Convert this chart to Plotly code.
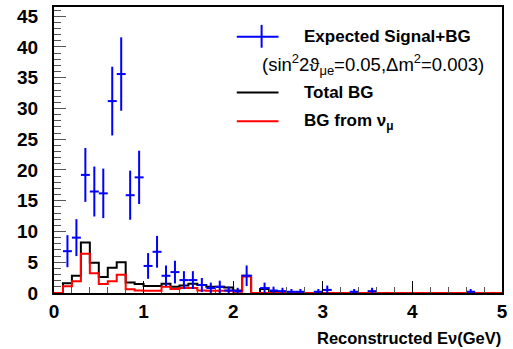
import numpy as np
import plotly.graph_objects as go

# bin edges 0..5 GeV, width 0.1
bin_edges = [round(0.1 * i, 1) for i in range(51)]

# Expected signal + background (blue points), one value per bin (None = empty)
signal_bg = [None, 6.8, 9.0, 19.2, 16.5, 16.2, 31.2, 35.6, 15.9, 18.8,
             4.4, 6.7, 2.8, 3.4, 2.1, 2.1, 1.3, 0.8, 1.0, 0.4,
             0.3, 2.8, None, 0.8, 0.4, 0.3, 0.2, 0.2, None, 0.2,
             0.5, None, None, 0.2, None, 0.3, None, None, None, None,
             None, None, None, None, None, None, 0.2, None, None, None]

# Total background (black histogram)
total_bg = [0, 1.6, 2.8, 8.2, 4.9, 2.6, 4.1, 5.0, 1.7, 1.45,
            1.15, 1.15, 1.5, 1.0, 1.2, 1.5, 1.3, 1.0, 1.0, 0.9,
            0.4, 2.8, 0, 0.65, 0.3, 0.1, 0, 0, 0, 0,
            0, 0, 0, 0, 0, 0, 0, 0, 0, 0,
            0, 0, 0, 0, 0, 0, 0, 0, 0, 0]

# Background from nu_mu (red histogram)
bg_numu = [0, 1.1, 1.9, 6.4, 3.2, 1.45, 1.9, 2.95, 0.6, 0.4,
           0.35, 0.35, 1.0, 0.65, 0.8, 0.8, 0.4, 0.35, 0.35, 0.35,
           0.2, 2.7, 0, 0, 0, 0, 0, 0, 0, 0,
           0, 0, 0, 0, 0, 0, 0, 0, 0, 0,
           0, 0, 0, 0, 0, 0, 0, 0, 0, 0]

x_ticks = [0, 1, 2, 3, 4, 5]
y_ticks = [0, 5, 10, 15, 20, 25, 30, 35, 40, 45]

centers = [(bin_edges[i] + bin_edges[i + 1]) / 2 for i in range(len(signal_bg))]
half_w = [(bin_edges[i + 1] - bin_edges[i]) / 2 for i in range(len(signal_bg))]
sig_err = [np.sqrt(v) if v is not None else None for v in signal_bg]

fig = go.Figure()

fig.add_trace(go.Scatter(
    x=bin_edges, y=total_bg + [total_bg[-1]], mode="lines",
    line=dict(shape="hv", color="black", width=2), showlegend=False))
fig.add_trace(go.Scatter(
    x=bin_edges, y=bg_numu + [bg_numu[-1]], mode="lines",
    line=dict(shape="hv", color="#ff0000", width=2), showlegend=False))
fig.add_trace(go.Scatter(
    x=centers, y=signal_bg, mode="markers",
    marker=dict(size=1, color="#0000ff", opacity=0),
    error_y=dict(type="data", array=sig_err, color="#0000ff", thickness=2, width=0),
    error_x=dict(type="data", array=half_w, color="#0000ff", thickness=2, width=0),
    showlegend=False))

L, R, T, B = 54, 8, 5, 56
W, H = 513, 349
pw, ph = W - L - R, H - T - B


def px(xp):
    return (xp - L) / pw


def py(yp):
    return (H - B - yp) / ph


font = "Liberation Sans, Arial, Helvetica, sans-serif"
shapes = [
    dict(type="line", xref="paper", yref="paper", x0=px(238), x1=px(280), y0=py(35), y1=py(35),
         line=dict(color="#0000ff", width=2)),
    dict(type="line", xref="paper", yref="paper", x0=px(263), x1=px(263), y0=py(23), y1=py(46),
         line=dict(color="#0000ff", width=2)),
    dict(type="line", xref="paper", yref="paper", x0=px(238), x1=px(280), y0=py(91), y1=py(91),
         line=dict(color="black", width=2)),
    dict(type="line", xref="paper", yref="paper", x0=px(238), x1=px(280), y0=py(120), y1=py(120),
         line=dict(color="#ff0000", width=2)),
]
ann = [
    dict(text="<b>Expected Signal+BG</b>", x=px(304), y=py(35), xanchor="left", yanchor="middle",
         font=dict(size=17, color="black", family=font)),
    dict(text="(sin<sup>2</sup>2ϑ<sub>μe</sub>=0.05,Δm<sup>2</sup>=0.003)", x=px(261), y=py(63),
         xanchor="left", yanchor="middle", font=dict(size=18.5, color="black", family=font)),
    dict(text="<b>Total BG</b>", x=px(304), y=py(91), xanchor="left", yanchor="middle",
         font=dict(size=17, color="black", family=font)),
    dict(text="<b>BG from ν<sub>μ</sub></b>", x=px(304), y=py(121), xanchor="left", yanchor="middle",
         font=dict(size=17, color="black", family=font)),
    dict(text="<b>Reconstructed Eν(GeV)</b>", x=px(506), y=py(338), xanchor="right", yanchor="middle",
         font=dict(size=16.5, color="black", family=font)),
]
for a in ann:
    a.update(xref="paper", yref="paper", showarrow=False)

fig.update_layout(
    width=W, height=H, autosize=False,
    margin=dict(l=L, r=R, t=T, b=B, pad=0),
    paper_bgcolor="white", plot_bgcolor="white",
    shapes=shapes, annotations=ann,
    xaxis=dict(range=[0, 5], tickvals=x_ticks, ticks="inside", ticklen=12, tickwidth=1,
               tickcolor="black", showgrid=False, zeroline=False, showline=True,
               linecolor="black", linewidth=2, mirror=True,
               tickfont=dict(family=font, size=19, color="black", weight="bold"),
               minor=dict(dtick=0.2, ticks="inside", ticklen=6, tickcolor="#555", showgrid=False)),
    yaxis=dict(range=[0, 46.5], tickvals=y_ticks, ticks="inside", ticklen=12, tickwidth=1,
               tickcolor="#555", showgrid=False, zeroline=False, showline=True,
               linecolor="black", linewidth=2, mirror=True, ticklabelstandoff=10,
               tickfont=dict(family=font, size=19, color="black", weight="bold"),
               minor=dict(dtick=1, ticks="inside", ticklen=7, tickcolor="#555", showgrid=False)),
)

fig.write_html("out.html", config={"displayModeBar": False},
               post_script="document.body.style.margin='0';document.body.style.overflow='hidden';")
